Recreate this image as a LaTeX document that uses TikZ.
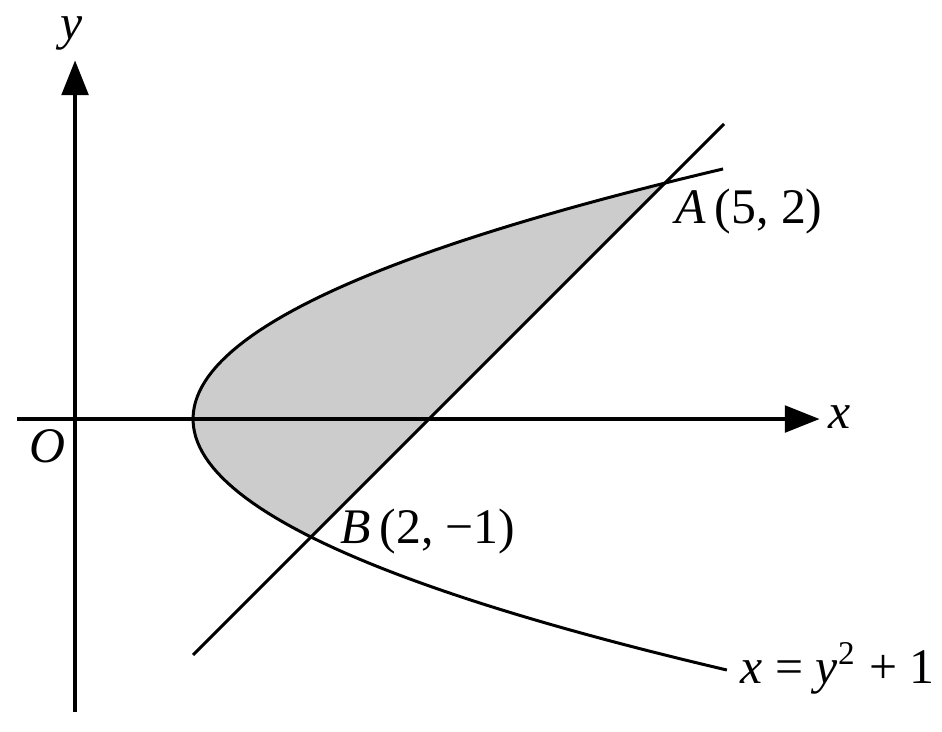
\documentclass[tikz,border=0pt]{standalone}
\usepackage{fontspec}
\setmainfont{Liberation Serif}
\usetikzlibrary{arrows.meta}
\begin{document}
\begin{tikzpicture}[x=1cm,y=1cm,
  axis/.style={line width=0.95pt,-{Triangle[length=8.4pt,width=6.4pt]}},
  curve/.style={line width=0.72pt},
  lbl/.style={inner sep=0pt,font=\fontsize{12}{14}\selectfont}]
\useasboundingbox (-0.636,-2.644) rectangle (7.347,3.551);
% shaded region
\fill[gray!40] plot[domain=-1:2,samples=60,variable=\t] ({\t*\t+1},{\t}) -- cycle;
% axes
\coordinate (xs) at (-0.49,0);
\coordinate (xe) at (6.31,0);
\coordinate (ys) at (0,-2.48);
\coordinate (ye) at (0,3.04);
\draw[axis] (xs) -- (xe);
\draw[axis] (ys) -- (ye);
% line
\coordinate (l1) at (1,-2);
\coordinate (l2) at (5.5,2.5);
\draw[curve] (l1) -- (l2);
% parabola
\draw[curve] plot[domain=-2.127:2.12,samples=100,variable=\t] ({\t*\t+1},{\t});
% labels
\node[lbl] (ylab) at (-0.03,3.27) {\textit{y}};
\node[lbl] (xlab) at (6.48,0.02) {\textit{x}};
\node[lbl] (olab) at (-0.23,-0.23) {\textit{O}};
\node[lbl,anchor=base west] (alab) at (5.085,1.653) {\textit{A}\,(5, 2)};
\node[lbl,anchor=base west] (blab) at (2.246,-1.051) {\textit{B}\,(2, −1)};
\node[lbl,anchor=base west] (plab) at (5.636,-2.237) {\textit{x} = \textit{y}\textsuperscript{2} + 1};
\end{tikzpicture}
\end{document}
